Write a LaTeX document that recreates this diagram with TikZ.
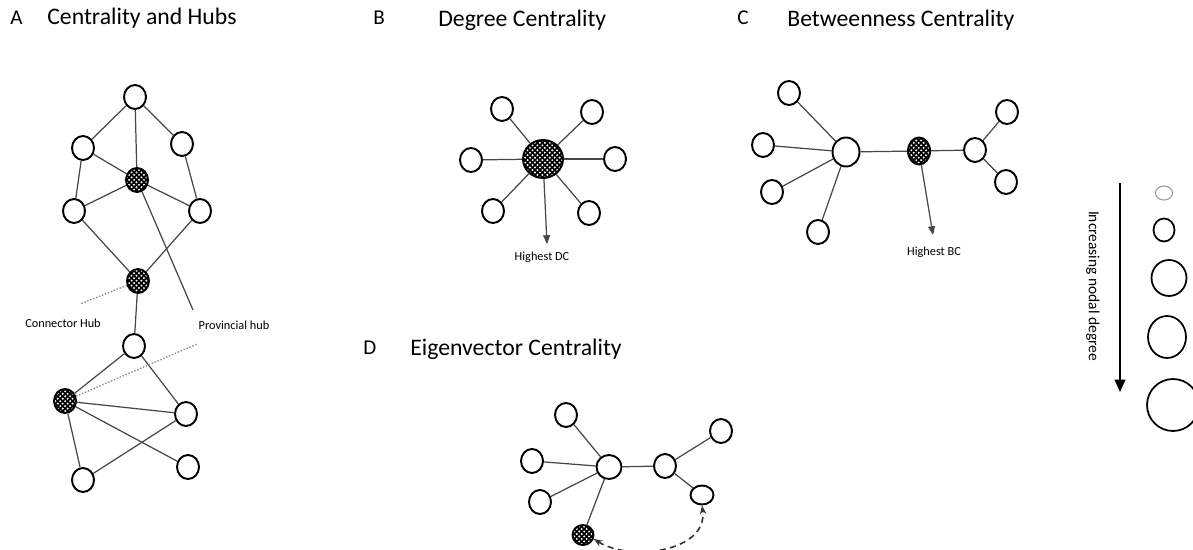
\documentclass[tikz,border=0pt]{standalone}
\usepackage{fontspec}
\setmainfont{Carlito}
\usetikzlibrary{shapes.geometric,patterns,arrows.meta}

% white spots on the hubs
\pgfdeclarepatternformonly{hubdots}{\pgfqpoint{-1pt}{-1pt}}{\pgfqpoint{4pt}{4pt}}{\pgfqpoint{2.8pt}{2.8pt}}{%
  \pgfpathcircle{\pgfqpoint{0.7pt}{0.7pt}}{0.62pt}%
  \pgfpathcircle{\pgfqpoint{2.1pt}{2.1pt}}{0.62pt}%
  \pgfusepath{fill}}

\begin{document}
\begin{tikzpicture}[x=0.02cm,y=-0.02cm,>={Triangle[length=5pt,width=4pt]}]

\def\nw{0.44cm}
\def\nh{0.48cm}

% Colours
\colorlet{edgecolor}{black!72}
\colorlet{hintcolor}{black!45}

% Styles
\tikzstyle{nd}=[ellipse, draw, line width=1.1pt, fill=white, inner sep=0pt, minimum width=\nw, minimum height=\nh]
\tikzstyle{hub}=[nd, preaction={fill=black}, pattern=hubdots, pattern color=white]
\tikzstyle{link}=[draw=edgecolor, line width=0.7pt]
\tikzstyle{hint}=[draw=hintcolor, densely dotted, line width=0.8pt]
\tikzstyle{title}=[font=\fontsize{13.5}{16}\selectfont, anchor=base west, inner sep=0pt]
\tikzstyle{letter}=[font=\fontsize{12}{14}\selectfont, anchor=base west, inner sep=0pt]
\tikzstyle{note}=[font=\fontsize{7}{8}\selectfont, inner sep=0pt]

\useasboundingbox (0,0) rectangle (1193,550);

% A: hubs
\node[letter] (la) at (10,25) {A};
\node[title] (ta) at (47,25) {Centrality and Hubs};
\node[nd] (a1) at (135,97) {};
\node[nd] (a2) at (83,148) {};
\node[nd] (a3) at (182,144) {};
\node[hub] (a4) at (137,180) {};
\node[nd] (a5) at (74,211) {};
\node[nd] (a6) at (200,211) {};
\node[hub] (a7) at (138,281) {};
\node[nd] (a8) at (134,346) {};
\node[hub] (a9) at (65,401) {};
\node[nd] (a10) at (186,414) {};
\node[nd] (a11) at (188,467) {};
\node[nd] (a12) at (83,480) {};
\foreach \u/\v in {a1/a2,a1/a4,a1/a3,a2/a4,a2/a5,a3/a6,a4/a5,a4/a6,a5/a7,a6/a7,a7/a8,a8/a9,a8/a10,a9/a10,a9/a11,a9/a12,a12/a10}
  \draw[link] (\u) -- (\v);
\coordinate (pa) at (193,310);
\coordinate (ca) at (80,304);
\coordinate (cb) at (197,344);
\draw[link] (a4) -- (pa);
\draw[hint] (a7) -- (ca);
\draw[hint] (a9) -- (cb);
\node[note] (cnh) at (63,323) {Connector Hub};
\node[note] (pvh) at (234,325) {Provincial hub};

% B: degree
\node[letter] (lb) at (373,25) {B};
\node[title] (tb) at (438,27) {Degree Centrality};
\node[hub, minimum width=0.8cm, minimum height=0.76cm] (b0) at (543,159) {};
\node[nd] (b1) at (502,109) {};
\node[nd] (b2) at (592,112) {};
\node[nd] (b3) at (471,160) {};
\node[nd] (b4) at (615,159) {};
\node[nd] (b5) at (493,211) {};
\node[nd] (b6) at (589,213) {};
\foreach \v in {b1,b2,b3,b4,b5,b6}
  \draw[link] (b0) -- (\v);
\coordinate (bx) at (547,244);
\draw[link,->] (b0) -- (bx);
\node[note] (hdc) at (542,257) {Highest DC};

% C: betweenness
\node[letter] (lc) at (737,25) {C};
\node[title] (tc) at (787,27) {Betweenness Centrality};
\node[nd, minimum width=0.54cm, minimum height=0.58cm] (c0) at (846,152) {};
\node[hub, minimum height=0.54cm] (ch) at (919,151) {};
\node[nd] (c1) at (975,150) {};
\node[nd] (c2) at (789,93) {};
\node[nd] (c3) at (763,145) {};
\node[nd] (c4) at (772,192) {};
\node[nd] (c5) at (818,232) {};
\node[nd] (c6) at (1007,112) {};
\node[nd] (c7) at (1006,182) {};
\foreach \u/\v in {c0/c2,c0/c3,c0/c4,c0/c5,c0/ch,ch/c1,c1/c6,c1/c7}
  \draw[link] (\u) -- (\v);
\coordinate (cx) at (933,235);
\draw[link,->] (ch) -- (cx);
\node[note] (hbc) at (934,252) {Highest BC};

% D: eigenvector
\node[letter] (ld) at (363,355) {D};
\node[title] (td) at (410,356) {Eigenvector Centrality};
\node[nd, minimum width=0.5cm] (d0) at (609,467) {};
\node[nd] (d1) at (665,466) {};
\node[nd] (d2) at (566,415) {};
\node[nd] (d3) at (532,461) {};
\node[nd] (d4) at (540,502) {};
\node[hub, minimum width=0.42cm, minimum height=0.4cm] (dh) at (583,535) {};
\node[nd] (d5) at (721,431) {};
\node[nd, minimum width=0.46cm, minimum height=0.38cm] (d6) at (702,495) {};
\foreach \u/\v in {d0/d2,d0/d3,d0/d4,d0/dh,d0/d1,d1/d5,d1/d6}
  \draw[link] (\u) -- (\v);
\draw[draw=black!80, line width=0.9pt, dash pattern=on 3.5pt off 2.5pt, {Stealth[length=5pt]}-{Stealth[length=5pt]}] (dh.-20) .. controls (630,562) and (708,552) .. (d6.south);

% legend
\coordinate (g1) at (1120,183);
\coordinate (g2) at (1120,392);
\draw[line width=1.2pt, -{Triangle[length=7pt,width=6pt]}] (g1) -- (g2);
\node[rotate=-90, font=\fontsize{8.8}{10}\selectfont] (gl) at (1093,286) {Increasing nodal degree};
\node[nd, draw=black!40, line width=0.6pt, minimum width=0.34cm, minimum height=0.28cm] (s1) at (1164,193) {};
\node[nd, line width=1pt, minimum width=0.42cm, minimum height=0.46cm] (s2) at (1164,230) {};
\node[nd, line width=1pt, minimum width=0.7cm, minimum height=0.72cm] (s3) at (1169,278) {};
\node[nd, line width=1pt, minimum width=0.76cm, minimum height=0.84cm] (s4) at (1167,337) {};
\node[nd, line width=1pt, minimum width=1.04cm, minimum height=1.04cm] (s5) at (1173,405) {};

\end{tikzpicture}
\end{document}
